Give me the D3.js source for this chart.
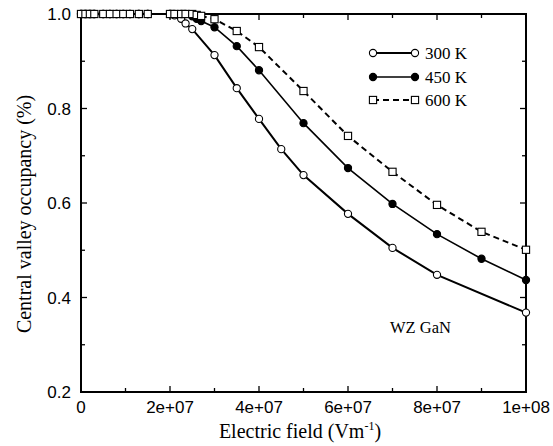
<!DOCTYPE html>
<html><head><meta charset="utf-8">
<script src="https://cdn.jsdelivr.net/npm/d3@7"></script>
<style>body{margin:0;background:#fff}</style>
</head><body>
<svg id="c" width="553" height="446"></svg>
<script>
const field = [0, 1e6, 2e6, 3e6, 5e6, 6.5e6, 8e6, 9.5e6, 1.1e7, 1.3e7, 1.5e7,
  2.0e7, 2.1e7, 2.25e7, 2.35e7, 2.5e7, 2.6e7, 2.7e7, 3e7, 3.5e7, 4e7, 4.5e7, 5e7, 6e7, 7e7, 8e7, 9e7, 1e8];
const occ300 = [1,1,1,1,1,1,1,1,1,1,1, 1.0,0.997,0.99,0.98,0.968,null,null,0.913,0.843,0.778,0.714,0.659,0.577,0.505,0.448,null,0.368];
const occ450 = [1,1,1,1,1,1,1,1,1,1,1, 1.0,1.0,1.0,1.0,0.995,0.99,0.985,0.972,0.932,0.881,null,0.769,0.674,0.598,0.534,0.482,0.437];
const occ600 = [1,1,1,1,1,1,1,1,1,1,1, 1.0,1.0,1.0,1.0,1.0,0.998,0.996,0.989,0.964,0.930,null,0.837,0.742,0.666,0.596,0.539,0.501];
const seriesNames = ["300 K", "450 K", "600 K"];
const xTicks = [0, 2e7, 4e7, 6e7, 8e7, 1e8];
const xTickLabels = ["0", "2e+07", "4e+07", "6e+07", "8e+07", "1e+08"];
const yTicks = [0.2, 0.4, 0.6, 0.8, 1.0];
const yTickLabels = ["0.2", "0.4", "0.6", "0.8", "1.0"];

const L = 81, R = 526, T = 14, B = 392;
const svg = d3.select("#c");
const x = d3.scaleLinear().domain([0, 1e8]).range([L, R]);
const y = d3.scaleLinear().domain([0.2, 1.0]).range([B, T]);

const sans = "'Liberation Sans', Arial, sans-serif";
const serif = "'Liberation Serif', 'Times New Roman', serif";

// frame
svg.append("rect").attr("x", L).attr("y", T).attr("width", R - L).attr("height", B - T)
  .attr("fill", "none").attr("stroke", "#000").attr("stroke-width", 2);

// ticks
const xMinor = d3.range(0, 1e8 + 1, 1e7);
const yMinor = d3.range(0.2, 1.0001, 0.1);
const tk = svg.append("g").attr("stroke", "#000").attr("stroke-width", 1.3);
xMinor.forEach((v, i) => {
  const len = i % 2 === 0 ? 6 : 4;
  tk.append("line").attr("x1", x(v)).attr("x2", x(v)).attr("y1", B).attr("y2", B - len);
  tk.append("line").attr("x1", x(v)).attr("x2", x(v)).attr("y1", T).attr("y2", T + len);
});
yMinor.forEach((v, i) => {
  const len = i % 2 === 0 ? 6 : 4;
  tk.append("line").attr("y1", y(v)).attr("y2", y(v)).attr("x1", L).attr("x2", L + len);
  tk.append("line").attr("y1", y(v)).attr("y2", y(v)).attr("x1", R).attr("x2", R - len);
});

// tick labels
svg.append("g").selectAll("text").data(xTicks).join("text")
  .attr("x", d => x(d)).attr("y", 413).attr("text-anchor", "middle")
  .attr("font-family", sans).attr("font-size", 17)
  .text((d, i) => xTickLabels[i]);
svg.append("g").selectAll("text").data(yTicks).join("text")
  .attr("x", 71).attr("y", d => y(d) + 6).attr("text-anchor", "end")
  .attr("font-family", sans).attr("font-size", 17)
  .text((d, i) => yTickLabels[i]);

// axis titles
svg.append("text").attr("x", 300).attr("y", 438).attr("text-anchor", "middle")
  .attr("font-family", serif).attr("font-size", 20)
  .html('Electric field (Vm<tspan dy="-8" font-size="12">-1</tspan><tspan dy="8">)</tspan>');
svg.append("text").attr("transform", `translate(31,214) rotate(-90)`)
  .attr("text-anchor", "middle").attr("font-family", serif).attr("font-size", 20)
  .text("Central valley occupancy (%)");

// series
const styles = [
  {data: occ300, width: 2, dash: null, marker: "circle", fill: "#fff"},
  {data: occ450, width: 1.6, dash: null, marker: "circle", fill: "#000"},
  {data: occ600, width: 2, dash: "6,4", marker: "square", fill: "#fff"}
];
const plot = svg.append("g");
styles.forEach(s => {
  const pts = field.map((f, i) => [f, s.data[i]]).filter(p => p[1] != null);
  plot.append("path").datum(pts)
    .attr("d", d3.line().x(p => x(p[0])).y(p => y(p[1])))
    .attr("fill", "none").attr("stroke", "#000").attr("stroke-width", s.width)
    .attr("stroke-dasharray", s.dash);
});
function marker(g, type, fill, cx, cy) {
  if (type === "circle") {
    g.append("circle").attr("cx", cx).attr("cy", cy).attr("r", 3.6)
      .attr("fill", fill).attr("stroke", "#000").attr("stroke-width", 1.1);
  } else {
    g.append("rect").attr("x", cx - 3.6).attr("y", cy - 3.6).attr("width", 7.2).attr("height", 7.2)
      .attr("fill", fill).attr("stroke", "#000").attr("stroke-width", 1.1);
  }
}
styles.forEach(s => {
  field.forEach((f, i) => {
    if (s.data[i] != null) marker(plot, s.marker, s.fill, x(f), y(s.data[i]));
  });
});

// legend
const legY = [53, 77, 100];
styles.forEach((s, i) => {
  svg.append("line").attr("x1", 373).attr("x2", 415).attr("y1", legY[i]).attr("y2", legY[i])
    .attr("stroke", "#000").attr("stroke-width", s.width).attr("stroke-dasharray", s.dash);
  marker(svg, s.marker, s.fill, 373, legY[i]);
  marker(svg, s.marker, s.fill, 415, legY[i]);
  svg.append("text").attr("x", 425).attr("y", legY[i] + 6).attr("font-family", serif)
    .attr("font-size", 17).text(seriesNames[i]);
});

svg.append("text").attr("x", 390).attr("y", 333).attr("font-family", serif)
  .attr("font-size", 16.5).text("WZ GaN");
</script>
</body></html>
